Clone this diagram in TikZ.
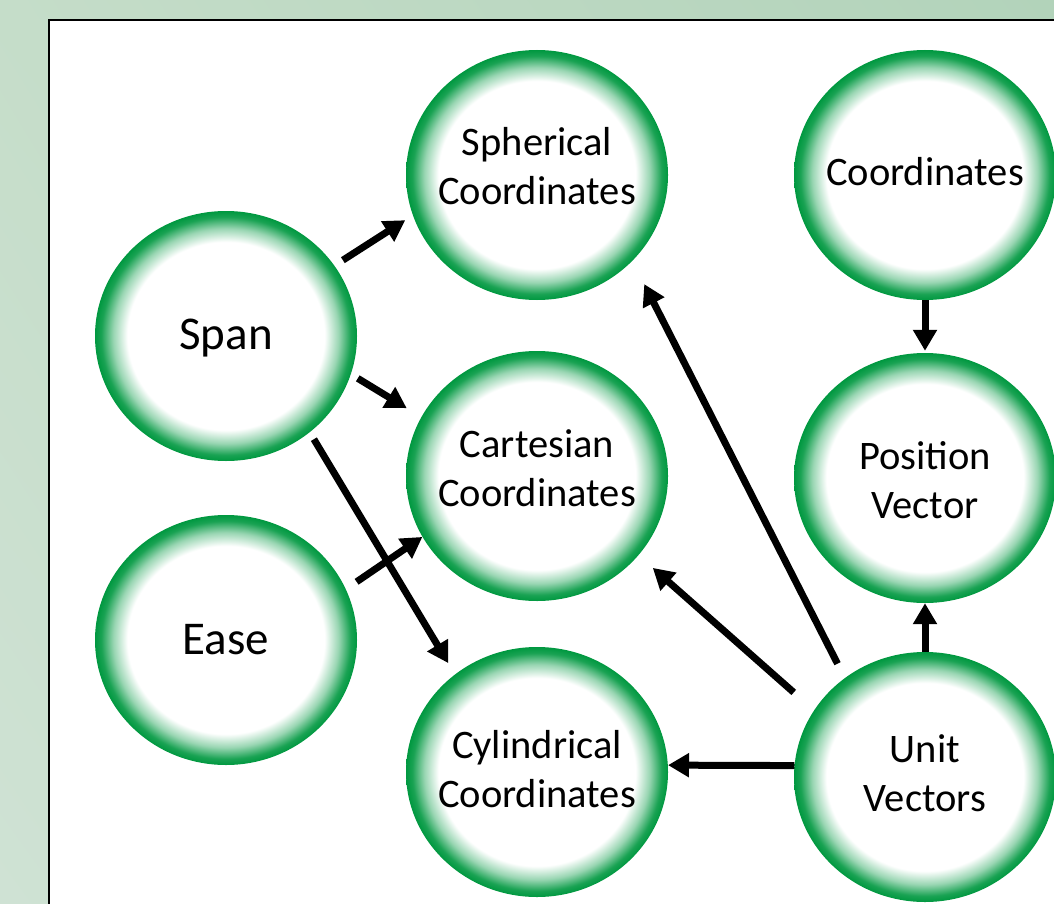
\documentclass[tikz,border=0pt]{standalone}
\usepackage{fontspec}
\setmainfont{Carlito}
\usetikzlibrary{arrows.meta,shapes.geometric,shadings}
\definecolor{ringgreen}{RGB}{0,152,64}
\colorlet{rgA}{ringgreen!40!white}
\colorlet{rgB}{ringgreen!90!white}
\definecolor{bgA}{RGB}{197,221,201}
\definecolor{bgB}{RGB}{178,211,186}
\definecolor{bgC}{RGB}{207,226,212}
\definecolor{bgD}{RGB}{190,218,196}
\pgfdeclareradialshading{ringshade}{\pgfpoint{0bp}{0bp}}{color(0bp)=(white); color(18.8bp)=(white); color(21.5bp)=(rgA); color(23.8bp)=(rgB); color(25bp)=(ringgreen); color(50bp)=(ringgreen)}
\begin{document}
\begin{tikzpicture}[x=1pt,y=-1pt,
  bubble/.style={ellipse, minimum width=262pt, minimum height=250pt, inner sep=0pt,
    shading=ringshade},
  txt/.style={align=center, font=\fontsize{40.5}{49}\selectfont, inner sep=0pt},
  bigtxt/.style={align=center, font=\fontsize{47}{56}\selectfont, inner sep=0pt},
  conn/.style={line width=7pt, -{Triangle[length=21pt,width=23pt]}}]
\useasboundingbox (0,0) rectangle (1054,904);
\shade[upper left=bgA, upper right=bgB, lower left=bgC, lower right=bgD] (0,0) rectangle (1054,904);
\draw[fill=white, line width=2.5pt] (49,20) rectangle (1080,930);

\node[bubble, label={[bigtxt, yshift=-2pt]center:Span}] (span) at (226,336) {};
\node[bubble, label={[bigtxt, yshift=0pt]center:Ease}] (ease) at (226,640) {};
\node[bubble, label={[txt, yshift=9pt]center:{Spherical\\Coordinates}}] (sph) at (537,175) {};
\node[bubble, label={[txt, yshift=8pt]center:{Cartesian\\Coordinates}}] (cart) at (537,476) {};
\node[bubble, label={[txt, yshift=3pt]center:{Cylindrical\\Coordinates}}] (cyl) at (537,772) {};
\node[bubble, label={[txt, yshift=3pt]center:Coordinates}] (coord) at (925,175) {};
\node[bubble, label={[txt, yshift=-2pt]center:{Position\\Vector}}] (pos) at (925,478) {};
\node[bubble, label={[txt, yshift=4pt]center:{Unit\\Vectors}}] (unit) at (925,777) {};

\draw[conn, shorten <=10pt, shorten >=9pt] (span.33) -- (sph.198);
\draw[conn, shorten <=8pt, shorten >=17pt] (span.-17) -- (cart.153);
\draw[conn, shorten <=8pt, shorten >=13pt] (span.-49) -- (cyl.130);
\draw[conn, shorten <=13pt] (ease.23) -- (cart.208);
\draw[conn, shorten <=16pt, shorten >=26pt] (unit.129) -- (sph.-42);
\draw[conn, shorten <=27pt, shorten >=19pt] (unit.149) -- (cart.-38);
\draw[conn] (unit.175) -- (cyl.3);
\draw[conn] (unit.north) -- (pos.south);
\draw[conn, shorten >=2pt] (coord.south) -- (pos.north);
\end{tikzpicture}
\end{document}
